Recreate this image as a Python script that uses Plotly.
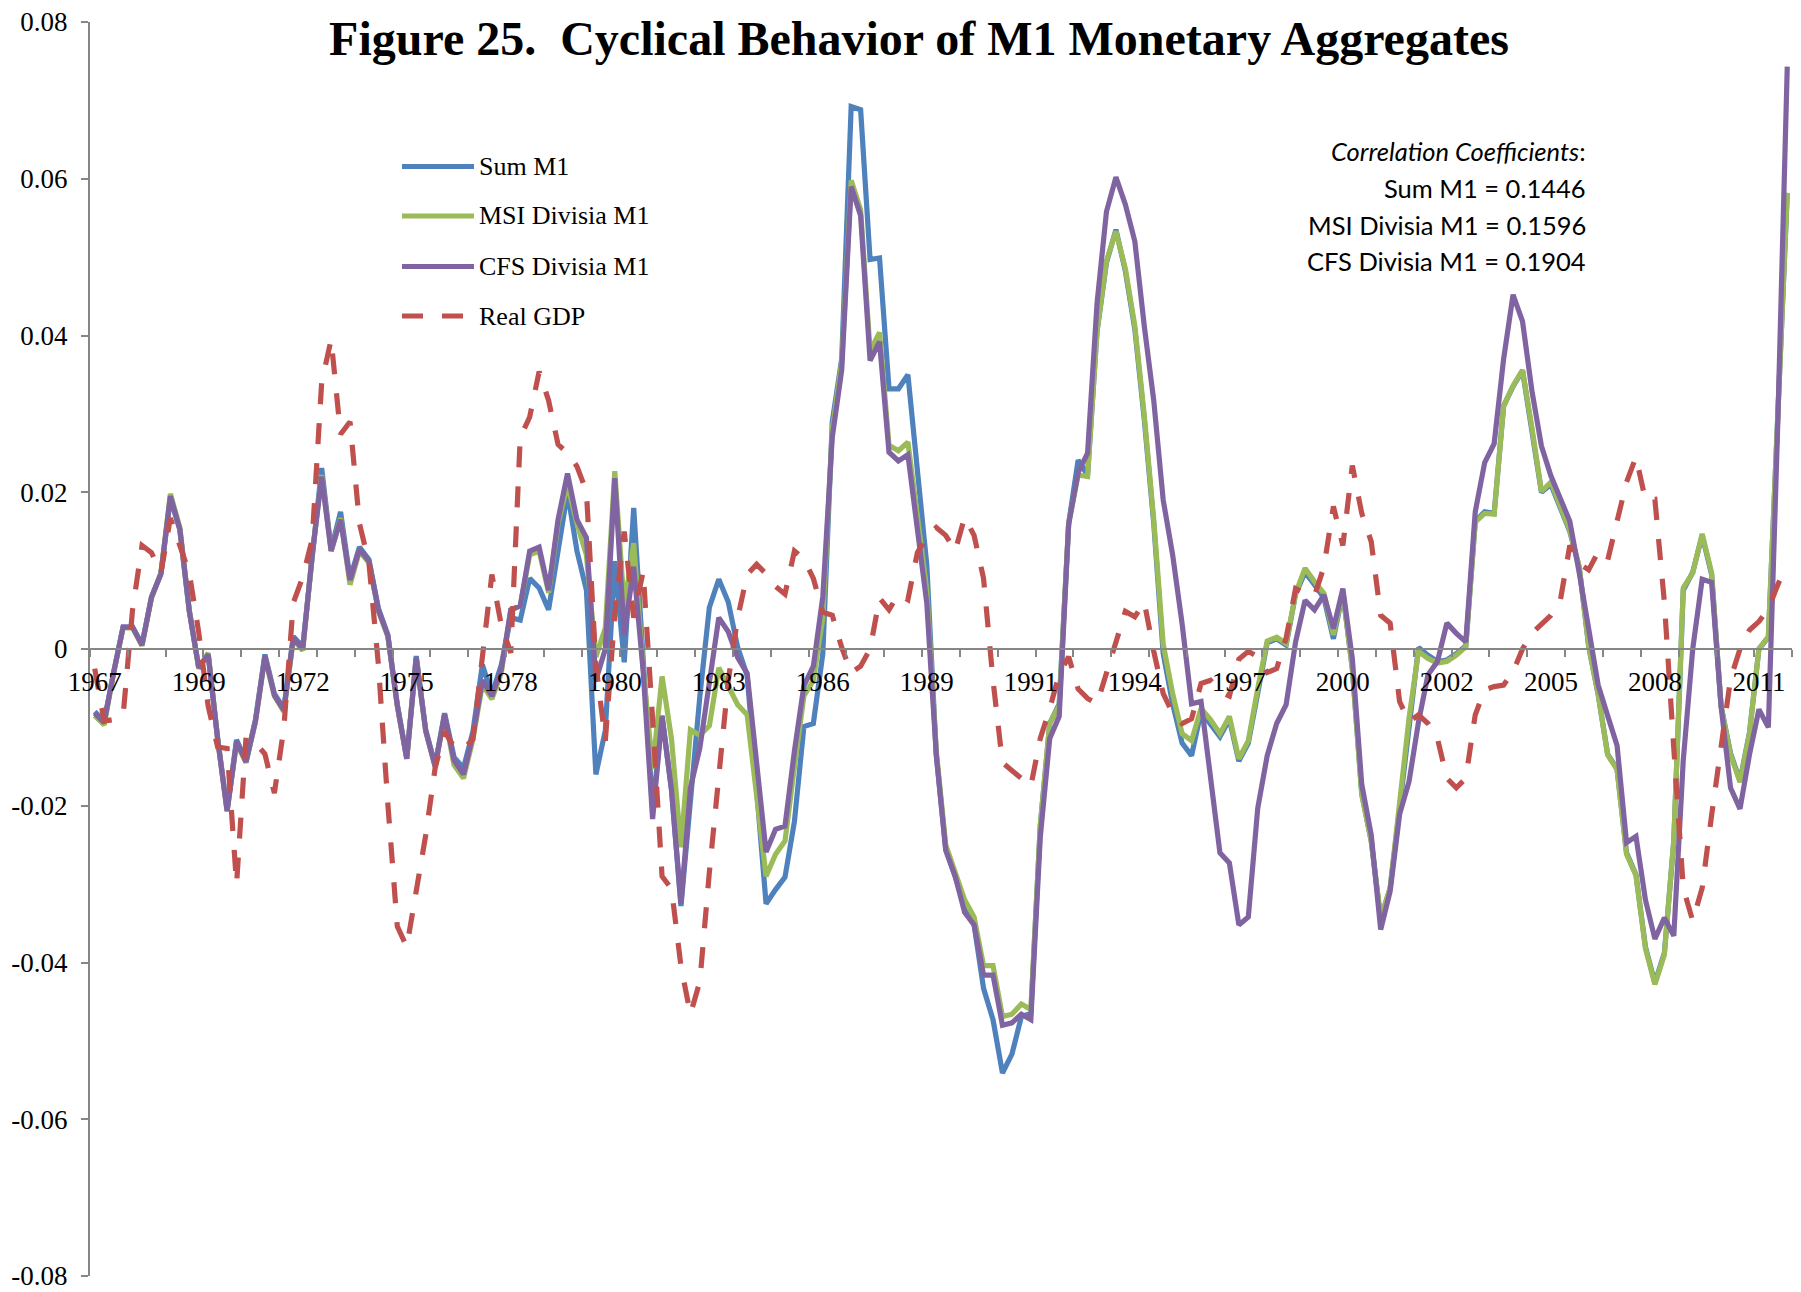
import plotly.graph_objects as go

# quarterly data, 1967Q1 .. 2011Q4, one row per year (Q1..Q4)
years = list(range(1967, 2012))

sum_m1 = [
    -0.0080, -0.0092, -0.0030, 0.0028,   # 1967
    0.0028, 0.0006, 0.0066, 0.0096,
    0.0192, 0.0152, 0.0048, -0.0023,
    -0.0007, -0.0114, -0.0205, -0.0116,  # 1970
    -0.0143, -0.0090, -0.0007, -0.0057,
    -0.0076, 0.0016, 0.0003, 0.0122,
    0.0231, 0.0127, 0.0175, 0.0090,
    0.0130, 0.0114, 0.0052, 0.0018,
    -0.0071, -0.0139, -0.0009, -0.0103,  # 1975
    -0.0148, -0.0082, -0.0138, -0.0152,
    -0.0105, -0.0020, -0.0058, -0.0020,
    0.0040, 0.0037, 0.0090, 0.0078,
    0.0050, 0.0125, 0.0200, 0.0125,
    0.0075, -0.0160, -0.0104, 0.0112,    # 1980
    -0.0017, 0.0180, -0.0010, -0.0205,
    -0.0085, -0.0180, -0.0328, -0.0185,
    -0.0060, 0.0053, 0.0089, 0.0060,
    0.0002, -0.0034, -0.0175, -0.0325,
    -0.0307, -0.0291, -0.0220, -0.0099,  # 1985
    -0.0095, -0.0006, 0.0290, 0.0370,
    0.0692, 0.0688, 0.0497, 0.0499,
    0.0332, 0.0332, 0.0350, 0.0220,
    0.0107, -0.0135, -0.0255, -0.0290,
    -0.0327, -0.0352, -0.0433, -0.0473,  # 1990
    -0.0541, -0.0517, -0.0469, -0.0465,
    -0.0225, -0.0095, -0.0070, 0.0160,
    0.0241, 0.0222, 0.0405, 0.0493,
    0.0535, 0.0482, 0.0408, 0.0293,
    0.0160, -0.0006, -0.0070, -0.0120,   # 1995
    -0.0136, -0.0080, -0.0095, -0.0112,
    -0.0090, -0.0143, -0.0120, -0.0055,
    0.0008, 0.0013, 0.0005, 0.0070,
    0.0098, 0.0082, 0.0065, 0.0013,
    0.0072, -0.0025, -0.0185, -0.0245,   # 2000
    -0.0345, -0.0305, -0.0200, -0.0090,
    0.0002, -0.0008, -0.0016, -0.0014,
    -0.0006, 0.0004, 0.0163, 0.0175,
    0.0173, 0.0310, 0.0335, 0.0355,
    0.0280, 0.0200, 0.0210, 0.0180,      # 2005
    0.0150, 0.0104, 0.0003, -0.0058,
    -0.0134, -0.0153, -0.0260, -0.0288,
    -0.0380, -0.0426, -0.0388, -0.0245,
    0.0075, 0.0098, 0.0145, 0.0095,
    -0.0073, -0.0133, -0.0168, -0.0107,  # 2010
    0.0000, 0.0015, 0.0300, 0.0582,
]

msi_m1 = [
    -0.0085, -0.0097, -0.0030, 0.0027,   # 1967
    0.0027, 0.0004, 0.0065, 0.0097,
    0.0198, 0.0155, 0.0050, -0.0025,
    -0.0005, -0.0115, -0.0207, -0.0120,  # 1970
    -0.0145, -0.0093, -0.0010, -0.0060,
    -0.0080, 0.0012, -0.0002, 0.0120,
    0.0222, 0.0125, 0.0167, 0.0082,
    0.0125, 0.0110, 0.0048, 0.0016,
    -0.0073, -0.0140, -0.0012, -0.0105,  # 1975
    -0.0150, -0.0085, -0.0148, -0.0165,
    -0.0115, -0.0045, -0.0064, -0.0030,
    0.0050, 0.0055, 0.0120, 0.0125,
    0.0072, 0.0160, 0.0210, 0.0160,
    0.0120, -0.0010, 0.0027, 0.0227,     # 1980
    0.0053, 0.0135, -0.0024, -0.0153,
    -0.0035, -0.0115, -0.0253, -0.0103,
    -0.0110, -0.0098, -0.0024, -0.0046,
    -0.0071, -0.0084, -0.0182, -0.0290,
    -0.0262, -0.0245, -0.0150, -0.0060,  # 1985
    -0.0040, 0.0040, 0.0280, 0.0365,
    0.0598, 0.0560, 0.0380, 0.0404,
    0.0260, 0.0253, 0.0264, 0.0163,
    0.0075, -0.0130, -0.0250, -0.0285,
    -0.0320, -0.0342, -0.0404, -0.0404,  # 1990
    -0.0469, -0.0466, -0.0453, -0.0460,
    -0.0225, -0.0095, -0.0072, 0.0160,
    0.0222, 0.0220, 0.0406, 0.0495,
    0.0533, 0.0485, 0.0412, 0.0298,
    0.0165, 0.0006, -0.0057, -0.0108,    # 1995
    -0.0117, -0.0076, -0.0090, -0.0108,
    -0.0086, -0.0140, -0.0117, -0.0050,
    0.0010, 0.0015, 0.0007, 0.0071,
    0.0103, 0.0086, 0.0071, 0.0018,
    0.0073, -0.0025, -0.0186, -0.0245,   # 2000
    -0.0343, -0.0305, -0.0199, -0.0088,
    -0.0003, -0.0012, -0.0018, -0.0016,
    -0.0008, 0.0003, 0.0162, 0.0173,
    0.0172, 0.0310, 0.0336, 0.0356,
    0.0282, 0.0201, 0.0213, 0.0182,      # 2005
    0.0151, 0.0105, 0.0004, -0.0058,
    -0.0135, -0.0154, -0.0262, -0.0289,
    -0.0382, -0.0428, -0.0390, -0.0243,
    0.0078, 0.0097, 0.0147, 0.0097,
    -0.0073, -0.0135, -0.0170, -0.0108,  # 2010
    0.0000, 0.0016, 0.0300, 0.0582,
]

cfs_m1 = [
    -0.0082, -0.0094, -0.0030, 0.0028,   # 1967
    0.0028, 0.0005, 0.0066, 0.0096,
    0.0195, 0.0153, 0.0049, -0.0024,
    -0.0007, -0.0115, -0.0207, -0.0118,  # 1970
    -0.0144, -0.0092, -0.0009, -0.0059,
    -0.0078, 0.0014, 0.0000, 0.0120,
    0.0220, 0.0125, 0.0165, 0.0088,
    0.0127, 0.0112, 0.0050, 0.0017,
    -0.0072, -0.0140, -0.0011, -0.0104,  # 1975
    -0.0150, -0.0084, -0.0142, -0.0160,
    -0.0110, -0.0040, -0.0060, -0.0026,
    0.0050, 0.0055, 0.0125, 0.0130,
    0.0075, 0.0165, 0.0224, 0.0165,
    0.0142, -0.0040, 0.0000, 0.0218,     # 1980
    0.0018, 0.0105, -0.0028, -0.0217,
    -0.0086, -0.0180, -0.0325, -0.0177,
    -0.0126, -0.0041, 0.0040, 0.0022,
    -0.0011, -0.0031, -0.0143, -0.0259,
    -0.0230, -0.0226, -0.0130, -0.0047,  # 1985
    -0.0022, 0.0067, 0.0270, 0.0356,
    0.0590, 0.0553, 0.0368, 0.0392,
    0.0251, 0.0240, 0.0248, 0.0147,
    0.0058, -0.0135, -0.0257, -0.0290,
    -0.0336, -0.0352, -0.0416, -0.0416,  # 1990
    -0.0480, -0.0477, -0.0466, -0.0473,
    -0.0240, -0.0114, -0.0086, 0.0159,
    0.0225, 0.0250, 0.0441, 0.0558,
    0.0602, 0.0567, 0.0520, 0.0412,
    0.0317, 0.0190, 0.0120, 0.0032,      # 1995
    -0.0070, -0.0067, -0.0165, -0.0260,
    -0.0273, -0.0352, -0.0342, -0.0203,
    -0.0136, -0.0095, -0.0071, 0.0009,
    0.0062, 0.0050, 0.0069, 0.0026,
    0.0077, -0.0012, -0.0173, -0.0237,   # 2000
    -0.0358, -0.0309, -0.0211, -0.0169,
    -0.0093, -0.0033, -0.0016, 0.0033,
    0.0020, 0.0009, 0.0175, 0.0238,
    0.0262, 0.0370, 0.0452, 0.0418,
    0.0329, 0.0259, 0.0221, 0.0194,      # 2005
    0.0163, 0.0097, 0.0024, -0.0046,
    -0.0085, -0.0123, -0.0247, -0.0239,
    -0.0320, -0.0370, -0.0343, -0.0366,
    -0.0142, 0.0000, 0.0089, 0.0085,
    -0.0073, -0.0177, -0.0204, -0.0135,  # 2010
    -0.0077, -0.0100, 0.0290, 0.0743,
]

real_gdp = [
    -0.0025, -0.0092, -0.0090, -0.0085,  # 1967
    0.0050, 0.0132, 0.0123, 0.0097,
    0.0167, 0.0134, 0.0097, 0.0021,
    -0.0073, -0.0125, -0.0127, -0.0300,  # 1970
    -0.0113, -0.0120, -0.0134, -0.0184,
    -0.0101, 0.0059, 0.0092, 0.0140,
    0.0340, 0.0395, 0.0274, 0.0290,
    0.0160, 0.0110, -0.0020, -0.0198,
    -0.0354, -0.0380, -0.0310, -0.0238,  # 1975
    -0.0152, -0.0105, -0.0125, -0.0128,
    -0.0115, -0.0010, 0.0095, 0.0030,
    -0.0005, 0.0270, 0.0296, 0.0354,
    0.0317, 0.0261, 0.0250, 0.0233,
    0.0201, -0.0020, -0.0117, 0.0045,    # 1980
    0.0150, 0.0040, 0.0099, -0.0090,
    -0.0290, -0.0306, -0.0405, -0.0466,
    -0.0424, -0.0285, -0.0155, -0.0040,
    0.0040, 0.0095, 0.0108, 0.0096,
    0.0080, 0.0070, 0.0125, 0.0115,      # 1985
    0.0090, 0.0047, 0.0043, 0.0002,
    -0.0030, -0.0022, 0.0000, 0.0065,
    0.0050, 0.0070, 0.0063, 0.0123,
    0.0143, 0.0155, 0.0145, 0.0125,
    0.0168, 0.0145, 0.0090, -0.0040,     # 1990
    -0.0145, -0.0155, -0.0165, -0.0175,
    -0.0114, -0.0076, -0.0032, -0.0010,
    -0.0051, -0.0063, -0.0070, -0.0032,
    0.0010, 0.0048, 0.0041, 0.0060,
    -0.0003, -0.0057, -0.0082, -0.0095,  # 1995
    -0.0089, -0.0044, -0.0040, -0.0054,
    -0.0060, -0.0013, -0.0003, -0.0010,
    -0.0030, -0.0025, 0.0014, 0.0077,
    0.0071, 0.0068, 0.0105, 0.0182,
    0.0132, 0.0234, 0.0173, 0.0137,      # 2000
    0.0043, 0.0033, -0.0067, -0.0093,
    -0.0084, -0.0095, -0.0114, -0.0165,
    -0.0177, -0.0165, -0.0084, -0.0052,
    -0.0048, -0.0046, -0.0029, 0.0000,
    0.0020, 0.0031, 0.0043, 0.0062,      # 2005
    0.0132, 0.0109, 0.0101, 0.0124,
    0.0113, 0.0163, 0.0213, 0.0245,
    0.0190, 0.0191, 0.0060, -0.0127,
    -0.0305, -0.0347, -0.0305, -0.0212,
    -0.0127, -0.0038, 0.0000, 0.0024,    # 2010
    0.0035, 0.0051, 0.0082, 0.0109,
]

series_names = ["Sum M1", "MSI Divisia M1", "CFS Divisia M1", "Real GDP"]
series_colors = ["#4F81BD", "#9BBB59", "#8064A2", "#C0504D"]
corr_labels = ["Sum M1", "MSI Divisia M1", "CFS Divisia M1"]
corr_values = ["0.1446", "0.1596", "0.1904"]

y_tick_vals = [-0.08, -0.06, -0.04, -0.02, 0, 0.02, 0.04, 0.06, 0.08]
y_tick_text = ["-0.08", "-0.06", "-0.04", "-0.02", "0", "0.02", "0.04", "0.06", "0.08"]

# the page body keeps its default 8px margin, so the figure is drawn 8px in;
# it runs on to the bottom of the window so the lowest tick label has room
OFF = 8
W, H = 1801 - 2 * OFF, 1292 - OFF
ML, MR, MT, MB = 82, 1, 14, 16
PW, PH = W - ML - MR, H - MT - MB
SERIF = "Liberation Serif"
GREY = "#868686"
DASH = "21px,19px"


# page pixel -> paper fraction
def px(xp):
    return (xp - OFF - ML) / PW


def py(yp):
    return 1 - (yp - OFF - MT) / PH


# quarter centres on a year scale, so year boundaries fall on whole numbers
x = [yr + (q + 0.5) / 4 for yr in years for q in range(4)]
label_idx = list(range(0, len(x), 11))

fig = go.Figure()
for name, vals, col in zip(series_names, [sum_m1, msi_m1, cfs_m1, real_gdp], series_colors):
    fig.add_trace(go.Scatter(
        x=x, y=vals, mode="lines", name=name, showlegend=False,
        line=dict(color=col, width=5.2, dash=DASH if name == "Real GDP" else "solid"),
    ))

# hand-made legend (long line samples like the original)
legend_y = [166.5, 216, 266.5, 316]
for name, col, ly in zip(series_names, series_colors, legend_y):
    fig.add_shape(type="line", xref="paper", yref="paper",
                  x0=px(402), x1=px(474), y0=py(ly), y1=py(ly),
                  line=dict(color=col, width=5, dash=DASH if name == "Real GDP" else "solid"))
    fig.add_annotation(text=name, xref="paper", yref="paper", x=px(476.5), y=py(ly),
                       xanchor="left", yanchor="middle", showarrow=False,
                       font=dict(family=SERIF, size=26, color="black"))

# correlation box
corr_lines = ["<i>Correlation Coefficients</i>:"] + [
    f"{lab} = {val}" for lab, val in zip(corr_labels, corr_values)]
for k, txt in enumerate(corr_lines):
    fig.add_annotation(text=txt, xref="paper", yref="paper", x=px(1588), y=py(151 + 36.8 * k),
                       xanchor="right", yanchor="middle", showarrow=False,
                       font=dict(family="Lato", size=25.5, color="black"))

fig.update_layout(
    width=W, height=H,
    margin=dict(l=ML, r=MR, t=MT, b=MB),
    paper_bgcolor="white", plot_bgcolor="white",
    title=dict(text="<b>Figure 25.\u00a0 Cyclical Behavior of M1 Monetary Aggregates</b>",
               x=(919 - OFF) / W, y=1 - (38 - OFF) / H, xanchor="center", yanchor="middle",
               xref="container", yref="container",
               font=dict(family=SERIF, size=48, color="black")),
    xaxis=dict(
        range=[years[0], years[-1] + 1],
        tickmode="array",
        tickvals=[x[i] for i in label_idx],
        ticktext=[str(years[i // 4]) for i in label_idx],
        ticks="", showline=True, linecolor=GREY, linewidth=2,
        showgrid=False, zeroline=False, automargin=False,
        anchor="free", position=0.5,
        ticklabelstandoff=9,
        tickfont=dict(family=SERIF, size=27, color="black"),
        minor=dict(tickmode="array", tickvals=years + [years[-1] + 1],
                   ticks="outside", ticklen=7, tickwidth=1.5, tickcolor=GREY, showgrid=False),
    ),
    yaxis=dict(
        range=[-0.08, 0.08],
        tickmode="array", tickvals=y_tick_vals, ticktext=y_tick_text,
        ticks="outside", ticklen=7, tickwidth=1.5, tickcolor=GREY,
        showline=True, linecolor=GREY, linewidth=2,
        showgrid=False, zeroline=False, automargin=False,
        ticklabelstandoff=8, ticklabeloverflow="allow",
        tickfont=dict(family=SERIF, size=27, color="black"),
    ),
)

fig.write_html("out.html")
